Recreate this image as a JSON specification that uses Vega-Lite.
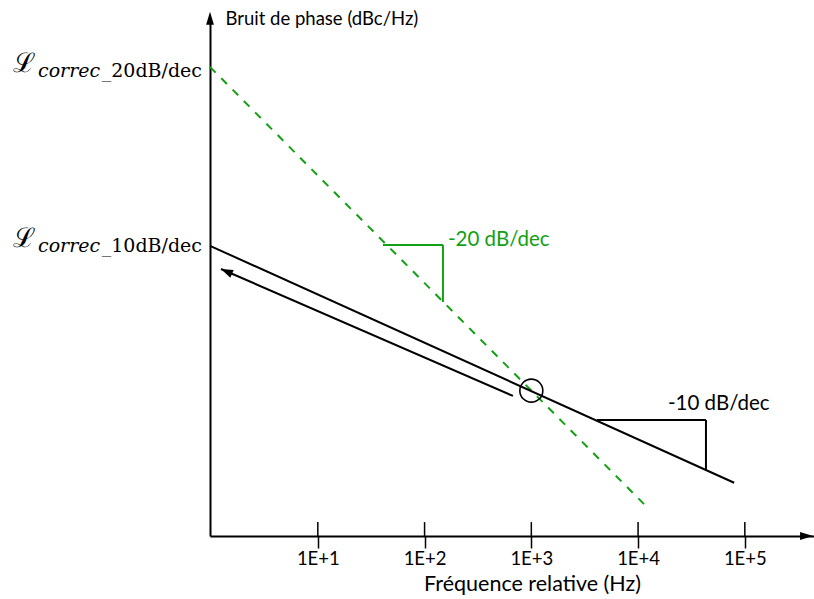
{
  "$schema": "https://vega.github.io/schema/vega-lite/v6.json",
  "width": 604,
  "height": 518,
  "autosize": {"type": "none"},
  "padding": {"left": 210, "top": 18, "right": 0, "bottom": 63},
  "background": "white",
  "config": {"view": {"stroke": null}, "font": "Lato"},
  "encoding": {
    "x": {"field": "f", "type": "quantitative", "scale": {"domain": [-0.01, 5.648], "nice": false, "zero": false}},
    "y": {"field": "L", "type": "quantitative", "scale": {"domain": [-108, 0], "nice": false, "zero": false}}
  },
  "layer": [
    {
      "data": {"values": [{"f": 1, "L": -108, "L2": -105.1}, {"f": 2, "L": -108, "L2": -105.1}, {"f": 3, "L": -108, "L2": -105.1}, {"f": 4, "L": -108, "L2": -105.1}, {"f": 5, "L": -108, "L2": -105.1}]},
      "mark": {"type": "rule", "color": "black", "strokeWidth": 1.5},
      "encoding": {
        "x": {"field": "f", "type": "quantitative", "axis": {"values": [1, 2, 3, 4, 5], "labelExpr": "'1E+' + datum.value", "grid": false, "domainColor": "black", "domainWidth": 2, "tickColor": "black", "tickWidth": 1.5, "tickSize": 12, "labelFontSize": 18.5, "labelColor": "black", "labelPadding": 1, "title": "Fréquence relative (Hz)", "titleFontSize": 21.5, "titleFontWeight": "normal", "titleColor": "black", "titleX": 322, "titleY": 48, "titleBaseline": "middle", "titleAlign": "center"}},
        "y": {"field": "L", "type": "quantitative", "axis": {"grid": false, "ticks": false, "labels": false, "domainColor": "black", "domainWidth": 2, "title": "Bruit de phase (dBc/Hz)", "titleAngle": 0, "titleAlign": "left", "titleBaseline": "middle", "titleX": 15, "titleY": 0, "titleFontSize": 18.5, "titleFontWeight": "normal", "titleColor": "black"}},
        "y2": {"field": "L2"}
      }
    },
    {
      "data": {"values": [{"f": -0.01, "L": -10.2}, {"f": 4.08, "L": -101.9}]},
      "mark": {"type": "line", "color": "#14a014", "strokeWidth": 2, "strokeDash": [8, 8]},
      "encoding": {}
    },
    {
      "data": {"values": [{"f": -0.01, "L": -47.5}, {"f": 4.9, "L": -96.9}]},
      "mark": {"type": "line", "color": "black", "strokeWidth": 2},
      "encoding": {}
    },
    {
      "data": {"values": [{"f": 0.093, "L": -52.33}, {"f": 2.828, "L": -78.8}]},
      "mark": {"type": "line", "color": "black", "strokeWidth": 2},
      "encoding": {}
    },
    {
      "data": {"values": [{"f": 0.093, "L": -52.33}]},
      "mark": {"type": "point", "shape": "M0,0L2,-0.7L2,0.7Z", "filled": true, "color": "black", "opacity": 1, "size": 144, "angle": 23.5, "strokeWidth": 0}
    },
    {
      "data": {"values": [{"f": -0.01, "L": 1.3}]},
      "mark": {"type": "point", "shape": "M0,0L-0.6,2L0.6,2Z", "filled": true, "color": "black", "opacity": 1, "size": 169, "strokeWidth": 0}
    },
    {
      "data": {"values": [{"f": 5.639, "L": -108}]},
      "mark": {"type": "point", "shape": "M0,0L-2,-0.6L-2,0.6Z", "filled": true, "color": "black", "opacity": 1, "size": 169, "strokeWidth": 0}
    },
    {
      "data": {"values": [{"f": 3.0, "L": -77.7}]},
      "mark": {"type": "point", "shape": "circle", "filled": false, "color": "black", "opacity": 1, "size": 529, "strokeWidth": 1.6}
    },
    {
      "data": {"values": [{"f": 1.61, "L": -47.33, "f2": 2.172, "L2": -47.33}, {"f": 2.172, "L": -47.33, "f2": 2.172, "L2": -59.22}]},
      "mark": {"type": "rule", "color": "#14a014", "strokeWidth": 2},
      "encoding": {"x2": {"field": "f2"}, "y2": {"field": "L2"}}
    },
    {
      "data": {"values": [{"f": 3.615, "L": -83.82, "f2": 4.636, "L2": -83.82}, {"f": 4.636, "L": -83.82, "f2": 4.636, "L2": -94.04}]},
      "mark": {"type": "rule", "color": "black", "strokeWidth": 2},
      "encoding": {"x2": {"field": "f2"}, "y2": {"field": "L2"}}
    },
    {
      "data": {"values": [{"f": 2.219, "L": -46.29, "t": "-20 dB/dec"}]},
      "mark": {"type": "text", "align": "left", "baseline": "middle", "fontSize": 20.5, "color": "#14a014"},
      "encoding": {"text": {"field": "t"}}
    },
    {
      "data": {"values": [{"f": 4.28, "L": -80.48, "t": "-10 dB/dec"}]},
      "mark": {"type": "text", "align": "left", "baseline": "middle", "fontSize": 20.5, "color": "black"},
      "encoding": {"text": {"field": "t"}}
    },
    {
      "data": {"values": [{"f": -0.01, "L": -11.26, "t": "ℒ"}, {"f": -0.01, "L": -47.75, "t": "ℒ"}]},
      "mark": {"type": "text", "align": "left", "baseline": "alphabetic", "dx": -197, "font": "DejaVu Serif", "fontSize": 27, "color": "black"},
      "encoding": {"text": {"field": "t"}}
    },
    {
      "data": {"values": [{"f": -0.01, "L": -12.3, "t": "correc"}, {"f": -0.01, "L": -48.79, "t": "correc"}]},
      "mark": {"type": "text", "align": "left", "baseline": "alphabetic", "dx": -172, "font": "DejaVu Serif", "fontStyle": "italic", "fontSize": 19, "color": "black"},
      "encoding": {"text": {"field": "t"}}
    },
    {
      "data": {"values": [{"f": -0.01, "L": -12.3, "t": "_20dB/dec"}, {"f": -0.01, "L": -48.79, "t": "_10dB/dec"}]},
      "mark": {"type": "text", "align": "right", "baseline": "alphabetic", "dx": -8, "font": "DejaVu Serif", "fontSize": 19, "color": "black"},
      "encoding": {"text": {"field": "t"}}
    }
  ]
}
